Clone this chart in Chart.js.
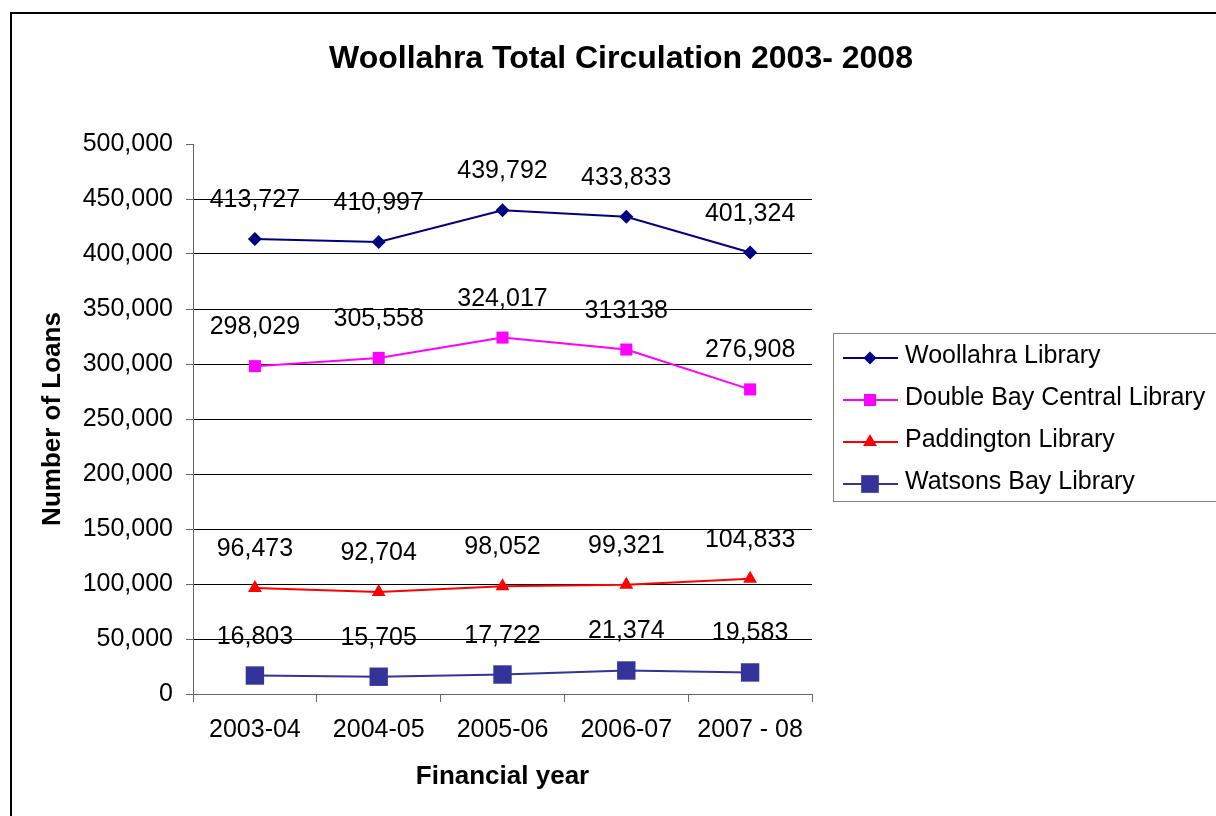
<!DOCTYPE html>
<html>
<head>
<meta charset="utf-8">
<title>Woollahra Total Circulation 2003- 2008</title>
<script src="https://cdn.jsdelivr.net/npm/chart.js@4/dist/chart.umd.min.js"></script>
<style>
	html,body{margin:0;padding:0;background:#fff;}
	canvas{display:block;}
</style>
</head>
<body>
<canvas id="chart" width="1216" height="816"></canvas>
<script>
// data
var years = ['2003-04', '2004-05', '2005-06', '2006-07', '2007 - 08'];
var woollahra = [413727, 410997, 439792, 433833, 401324];
var doubleBay = [298029, 305558, 324017, 313138, 276908];
var paddington = [96473, 92704, 98052, 99321, 104833];
var watsonsBay = [16803, 15705, 17722, 21374, 19583];
var seriesNames = ['Woollahra Library', 'Double Bay Central Library', 'Paddington Library', 'Watsons Bay Library'];
var yTicks = [0, 50000, 100000, 150000, 200000, 250000, 300000, 350000, 400000, 450000, 500000];
// labels printed without thousands separator in the original [series, index]
var plainLabels = [[1, 3]];

var FONT = '"Liberation Sans", Arial, sans-serif';

function fmt(v){ return v.toString().replace(/\B(?=(\d{3})+(?!\d))/g, ","); }

function marker(ctx, style, r, x, y){
	ctx.beginPath();
	if (style == 'rectRot') {
		ctx.moveTo(x - r, y); ctx.lineTo(x, y - r); ctx.lineTo(x + r, y); ctx.lineTo(x, y + r);
	} else if (style == 'rect') {
		var s = r * Math.SQRT1_2;
		ctx.rect(x - s, y - s, 2 * s, 2 * s);
	} else if (style == 'triangle') {
		ctx.moveTo(x, y - r);
		ctx.lineTo(x + r * Math.sin(2 * Math.PI / 3), y + r / 2);
		ctx.lineTo(x - r * Math.sin(2 * Math.PI / 3), y + r / 2);
	}
	ctx.closePath();
	ctx.fill();
}

var frame = {
	id: 'frame',
	beforeDraw: function(chart){
		var ctx = chart.ctx;
		ctx.save();
		ctx.fillStyle = '#fff';
		ctx.fillRect(0, 0, chart.width, chart.height);
		ctx.strokeStyle = '#000';
		ctx.lineWidth = 2;
		ctx.strokeRect(11, 13, 1400, 1000);
		ctx.fillStyle = '#000';
		ctx.font = 'bold 32px ' + FONT;
		ctx.textAlign = 'center';
		ctx.textBaseline = 'alphabetic';
		ctx.fillText('Woollahra Total Circulation 2003- 2008', 621, 68);
		ctx.restore();
	}
};

var pointLabels = {
	id: 'pointLabels',
	afterDatasetsDraw: function(chart){
		var ctx = chart.ctx;
		ctx.save();
		ctx.fillStyle = '#000';
		ctx.font = '25px ' + FONT;
		ctx.textAlign = 'center';
		ctx.textBaseline = 'alphabetic';
		chart.data.datasets.forEach(function(ds, i){
			chart.getDatasetMeta(i).data.forEach(function(pt, j){
				var plain = plainLabels.some(function(p){ return p[0] == i && p[1] == j; });
				var txt = plain ? String(ds.data[j]) : fmt(ds.data[j]);
				ctx.fillText(txt, pt.x, pt.y - 32);
			});
		});
		ctx.restore();
	}
};

var sideLegend = {
	id: 'sideLegend',
	afterDraw: function(chart){
		var ctx = chart.ctx;
		ctx.save();
		ctx.strokeStyle = '#808080';
		ctx.lineWidth = 1;
		ctx.strokeRect(833.5, 333.5, 500, 168);
		ctx.font = '25px ' + FONT;
		ctx.textAlign = 'left';
		ctx.textBaseline = 'alphabetic';
		chart.data.datasets.forEach(function(ds, i){
			var y = 358 + i * 42;
			ctx.strokeStyle = ds.borderColor;
			ctx.lineWidth = 2;
			ctx.beginPath(); ctx.moveTo(843, y); ctx.lineTo(898, y); ctx.stroke();
			ctx.fillStyle = ds.pointBackgroundColor;
			marker(ctx, ds.pointStyle, ds.legendRadius, 870, y);
			ctx.fillStyle = '#000';
			ctx.fillText(ds.label, 905, y + 4.5);
		});
		ctx.restore();
	}
};

// draws markers with the same shapes as the legend
var markers = {
	id: 'markers',
	afterDatasetsDraw: function(chart){
		var ctx = chart.ctx;
		ctx.save();
		chart.data.datasets.forEach(function(ds, i){
			ctx.fillStyle = ds.pointBackgroundColor;
			chart.getDatasetMeta(i).data.forEach(function(pt){
				marker(ctx, ds.pointStyle, ds.markerRadius, pt.x, pt.y);
			});
		});
		ctx.restore();
	}
};

function series(label, data, color, style, r, lr){
	return {label: label, data: data, borderColor: color, backgroundColor: color,
		pointBackgroundColor: color, pointStyle: style, pointRadius: 0, pointHoverRadius: 0,
		markerRadius: r, legendRadius: lr, borderWidth: 2, tension: 0, fill: false};
}

var ctx = document.getElementById('chart').getContext('2d');
var myChart = new Chart(ctx, {
	type: 'line',
	data: {
		labels: years,
		datasets: [
			series(seriesNames[0], woollahra, '#000080', 'rectRot', 7, 6.5),
			series(seriesNames[1], doubleBay, '#FF00FF', 'rect', 8.5, 8.5),
			series(seriesNames[2], paddington, '#FF0000', 'triangle', 8, 8),
			series(seriesNames[3], watsonsBay, '#333399', 'rect', 13, 12.5)
		]
	},
	options: {
		responsive: false,
		animation: false,
		devicePixelRatio: 1,
		layout: {padding: {top: 144, right: 404, left: 0, bottom: 0}},
		plugins: {legend: {display: false}, title: {display: false}, tooltip: {enabled: false}},
		scales: {
			x: {
				type: 'category',
				offset: true,
				grid: {offset: true, drawOnChartArea: false, tickLength: 8, color: '#666'},
				border: {color: '#666', width: 1},
				ticks: {color: '#000', font: {family: FONT, size: 25}, padding: 13, maxRotation: 0, autoSkip: false},
				title: {display: true, text: 'Financial year', color: '#000',
					font: {family: FONT, size: 26, weight: 'bold'}, padding: {top: 0, bottom: 23.4}},
				afterFit: function(s){ s.height = 122; }
			},
			y: {
				min: 0, max: 500000,
				afterBuildTicks: function(s){ s.ticks = yTicks.map(function(v){ return {value: v}; }); },
				grid: {
					color: function(c){ return c.tick && c.tick.value === 500000 ? 'rgba(0,0,0,0)' : '#000'; },
					tickColor: '#666', tickLength: 7
				},
				border: {color: '#666', width: 1},
				ticks: {color: '#000', font: {family: FONT, size: 25}, padding: 13,
					callback: function(v){ return fmt(v); }},
				title: {display: true, text: 'Number of Loans', color: '#000',
					font: {family: FONT, size: 26, weight: 'bold'}, padding: {top: 37.4, bottom: 0}},
				afterFit: function(s){ s.width = 193; }
			}
		}
	},
	plugins: [frame, markers, pointLabels, sideLegend]
});
</script>
</body>
</html>
